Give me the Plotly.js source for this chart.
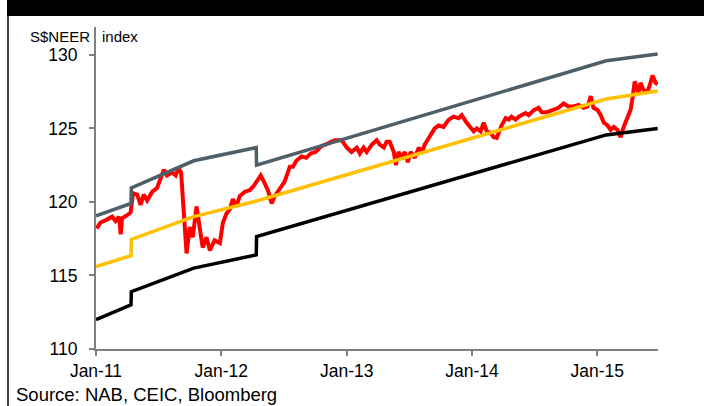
<!DOCTYPE html>
<html>
<head>
<meta charset="utf-8">
<script src="https://cdn.plot.ly/plotly-3.0.1.min.js"></script>
<style>html,body{margin:0;padding:0;background:#fff;}#chart{width:704px;height:406px;}</style>
</head>
<body>
<div id="chart"></div>
<script>
// S$NEER
const neerDates = ["2011-01-03","2011-01-14","2011-02-02","2011-02-17","2011-02-27","2011-03-09","2011-03-14","2011-03-18","2011-04-02","2011-04-12",
"2011-04-19","2011-05-01","2011-05-11","2011-05-20","2011-05-30","2011-06-14","2011-06-28","2011-07-08","2011-07-18","2011-07-27",
"2011-08-11","2011-08-21","2011-08-30","2011-09-06","2011-09-12","2011-09-17","2011-09-22","2011-10-01","2011-10-10","2011-10-21",
"2011-10-31","2011-11-08","2011-11-19","2011-11-29","2011-12-13","2011-12-28","2012-01-06","2012-01-16","2012-01-26","2012-02-04",
"2012-02-14","2012-02-24","2012-03-10","2012-03-24","2012-04-05","2012-04-17","2012-04-25","2012-05-04","2012-05-16","2012-05-27",
"2012-06-05","2012-06-20","2012-07-04","2012-07-19","2012-07-28","2012-08-07","2012-08-22","2012-09-05","2012-09-18","2012-10-02",
"2012-10-19","2012-11-09","2012-11-27","2012-12-17","2013-01-01","2013-01-15","2013-01-30","2013-02-08","2013-02-19","2013-02-28",
"2013-03-15","2013-03-29","2013-04-07","2013-04-19","2013-04-27","2013-05-06","2013-05-18","2013-05-24","2013-06-01","2013-06-10",
"2013-06-19","2013-06-28","2013-07-06","2013-07-18","2013-07-30","2013-08-07","2013-08-16","2013-08-28","2013-09-05","2013-09-14",
"2013-09-26","2013-10-10","2013-10-25","2013-11-08","2013-11-23","2013-12-02","2013-12-16","2013-12-28","2014-01-06","2014-01-15",
"2014-01-26","2014-02-04","2014-02-13","2014-02-24","2014-03-05","2014-03-14","2014-03-20","2014-03-28","2014-04-09","2014-04-18",
"2014-04-26","2014-05-08","2014-05-17","2014-05-26","2014-06-06","2014-06-15","2014-06-30","2014-07-14","2014-07-23","2014-08-06",
"2014-08-24","2014-09-10","2014-09-25","2014-10-09","2014-10-24","2014-11-08","2014-11-22","2014-12-04","2014-12-13","2014-12-21",
"2015-01-02","2015-01-11","2015-01-20","2015-01-31","2015-02-09","2015-02-18","2015-03-01","2015-03-10","2015-03-19","2015-03-30",
"2015-04-08","2015-04-14","2015-04-20","2015-05-01","2015-05-07","2015-05-16","2015-05-28","2015-06-05","2015-06-11","2015-06-20","2015-06-26"];
const neerValues = [118.2,118.6,118.8,119.0,118.7,119.0,117.8,118.9,119.1,119.3,
120.6,120.5,119.8,120.5,120.1,120.7,120.95,121.6,122.2,121.8,
122.0,121.8,122.3,122.0,120.0,117.5,116.5,118.3,117.6,119.7,
118.1,116.9,117.6,116.7,117.4,117.2,118.6,119.2,119.5,120.2,
119.7,120.4,120.7,120.8,121.1,121.5,121.8,121.4,120.8,119.9,
120.4,120.9,121.4,122.4,122.4,122.8,123.1,123.0,123.3,123.4,
123.8,124.0,124.2,124.2,123.7,123.4,123.7,123.3,123.7,123.4,
123.9,124.2,123.9,123.7,124.1,124.1,123.4,122.5,123.4,123.0,
123.4,122.7,123.4,123.0,123.7,123.3,123.9,124.35,124.7,125.0,
125.2,125.1,125.6,125.8,125.7,125.9,125.4,125.1,124.8,125.0,
124.8,125.4,124.8,124.7,124.4,124.35,124.8,125.2,125.7,125.6,
125.8,125.6,125.8,125.9,126.05,125.9,126.25,126.4,126.1,126.1,
126.25,126.4,126.7,126.5,126.5,126.6,126.4,126.5,127.2,126.4,
126.25,125.9,125.4,125.2,124.9,125.1,124.9,124.4,125.1,125.8,
126.25,127.1,128.2,127.4,128.1,127.6,127.5,128.1,128.6,128.1,128.0];

// Policy band
const topDates = ["2011-01-01","2011-04-13","2011-04-14","2011-10-13","2012-04-12","2012-04-13","2015-01-27","2015-06-26"];
const topValues = [119.05,119.9,120.95,122.8,123.7,122.5,129.6,130.07];
const midDates = ["2011-01-01","2011-04-13","2011-04-14","2011-10-13","2012-04-13","2015-01-27","2015-06-26"];
const midValues = [115.6,116.35,117.45,119.0,120.07,127.0,127.55];
const botDates = ["2011-01-01","2011-04-13","2011-04-14","2011-10-13","2012-04-12","2012-04-13","2015-01-27","2015-06-26"];
const botValues = [112.0,113.0,113.9,115.5,116.4,117.64,124.56,125.0];

const yTicks = [110,115,120,125,130];
const sourceText = "Source: NAB, CEIC, Bloomberg";

const FONT = '"Liberation Sans", Arial, sans-serif';
const L = 96, T = 27, W = 704, H = 406, R = W - 658, B = H - 349;
const pw = W - L - R, ph = H - T - B;
const px = x => (x - L) / pw;
const py = y => (H - B - y) / ph;

const traces = [
  {x: neerDates, y: neerValues, mode: 'lines', line: {color: '#ff0000', width: 4}, hoverinfo: 'skip'},
  {x: botDates, y: botValues, mode: 'lines', line: {color: '#000000', width: 3.5}, hoverinfo: 'skip'},
  {x: midDates, y: midValues, mode: 'lines', line: {color: '#ffc000', width: 3.5}, hoverinfo: 'skip'},
  {x: topDates, y: topValues, mode: 'lines', line: {color: '#4e5f6a', width: 3.5}, hoverinfo: 'skip'}
];

const layout = {
  width: W, height: H,
  margin: {l: L, r: R, t: T, b: B, pad: 0},
  paper_bgcolor: '#fff', plot_bgcolor: '#fff',
  showlegend: false,
  font: {family: FONT, size: 17, color: '#000'},
  xaxis: {
    type: 'date', range: ['2011-01-01', '2015-06-27'],
    tick0: '2011-01-01', dtick: 'M12', tickformat: '%b-%y',
    showgrid: false, zeroline: false,
    showline: true, linecolor: '#808080', linewidth: 2,
    ticks: 'outside', ticklen: 5, tickcolor: '#808080', tickwidth: 2,
    tickfont: {family: FONT, size: 17.5, color: '#000'}
  },
  yaxis: {
    range: [110, 131.9], tickvals: yTicks,
    showgrid: false, zeroline: false,
    showline: true, linecolor: '#808080', linewidth: 2,
    ticks: 'outside', ticklen: 5, tickcolor: '#808080', tickwidth: 2,
    ticklabelstandoff: 8,
    tickfont: {family: FONT, size: 17.5, color: '#000'}
  },
  shapes: [
    {type: 'rect', xref: 'paper', yref: 'paper', x0: px(7), x1: px(704), y0: py(16), y1: py(0),
     fillcolor: '#000', line: {width: 0}, layer: 'above'},
    {type: 'line', xref: 'paper', yref: 'paper', x0: px(8), x1: px(8), y0: py(16), y1: py(406),
     line: {color: '#000', width: 1.5}, layer: 'above'}
  ],
  annotations: [
    {text: 'S$NEER', xref: 'paper', yref: 'paper', x: px(92), y: py(36), xanchor: 'right', yanchor: 'middle',
     showarrow: false, font: {family: FONT, size: 15, color: '#000'}},
    {text: 'index', xref: 'paper', yref: 'paper', x: px(100), y: py(36), xanchor: 'left', yanchor: 'middle',
     showarrow: false, font: {family: FONT, size: 15, color: '#000'}},
    {text: sourceText, xref: 'paper', yref: 'paper', x: px(14), y: py(394), xanchor: 'left', yanchor: 'middle',
     showarrow: false, font: {family: FONT, size: 18.5, color: '#000'}}
  ]
};

Plotly.newPlot('chart', traces, layout, {staticPlot: true, displayModeBar: false});
</script>
</body>
</html>
